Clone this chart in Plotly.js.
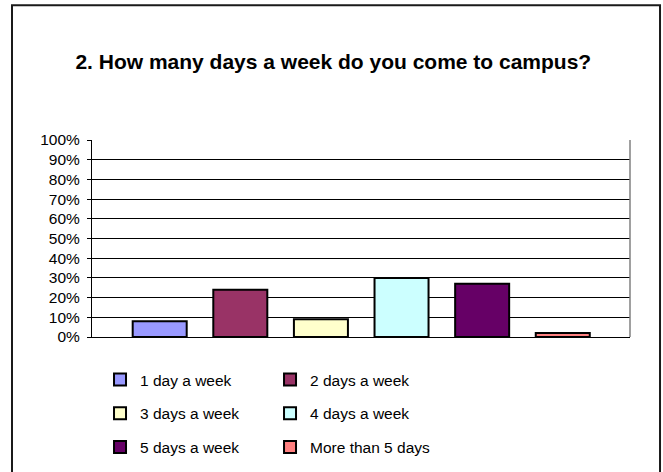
<!DOCTYPE html>
<html>
<head>
<meta charset="utf-8">
<script src="https://cdn.plot.ly/plotly-3.0.1.min.js"></script>
<style>
  html, body { margin: 0; padding: 0; background: #fff; }
  #chart { width: 663px; height: 472px; }
</style>
</head>
<body>
<div id="chart"></div>
<script>
// Data
const titleText = "2. How many days a week do you come to campus?";
const categories = ["1 day a week", "2 days a week", "3 days a week", "4 days a week", "5 days a week", "More than 5 days"];
const values = [8, 24, 9, 30, 27, 2];           // percent of respondents
const colors = ["#9999FF", "#993366", "#FFFFCC", "#CCFFFF", "#660066", "#FF8080"];
const legendOf = ["legend", "legend2", "legend", "legend2", "legend", "legend2"];

const FONT = '"Liberation Sans", Arial, sans-serif';

const traces = categories.map((name, i) => ({
  type: "bar",
  name: name,
  x: [name],
  y: [values[i]],
  width: 0.67,
  marker: { color: colors[i], line: { color: "#000", width: 2 } },
  legend: legendOf[i],
  legendgroup: "g" + i,
  hoverinfo: "skip"
}));

const legendCommon = {
  orientation: "v",
  traceorder: "grouped",
  tracegroupgap: 10.5,
  xanchor: "left",
  yanchor: "top",
  y: -0.132,
  bgcolor: "rgba(0,0,0,0)",
  borderwidth: 0,
  font: { family: FONT, size: 15.5, color: "#000" }
};

const layout = {
  width: 663,
  height: 472,
  margin: { l: 92, r: 33, t: 140, b: 135, pad: 0, autoexpand: false },
  paper_bgcolor: "#fff",
  plot_bgcolor: "#fff",
  barmode: "overlay",
  showlegend: true,
  title: {
    text: "<b>" + titleText + "</b>",
    font: { family: FONT, size: 21, color: "#000" },
    xref: "container", yref: "container",
    x: 0.5027, xanchor: "center",
    y: 0.8686, yanchor: "middle"
  },
  xaxis: {
    type: "category",
    categoryorder: "array",
    categoryarray: categories,
    range: [-0.8397, 5.834],
    showticklabels: false,
    ticks: "",
    showgrid: false,
    zeroline: false,
    showline: true,
    linecolor: "#000",
    linewidth: 1,
    fixedrange: true
  },
  yaxis: {
    range: [0, 100],
    dtick: 10,
    tick0: 0,
    ticksuffix: "%",
    ticks: "outside",
    ticklen: 4,
    tickwidth: 1,
    tickcolor: "#000",
    ticklabelstandoff: 4,
    tickfont: { family: FONT, size: 15.5, color: "#000" },
    showgrid: true,
    gridcolor: "#000",
    gridwidth: 1,
    zeroline: false,
    showline: true,
    linecolor: "#000",
    linewidth: 1,
    fixedrange: true
  },
  legend: Object.assign({}, legendCommon, { x: 0.0149 }),
  legend2: Object.assign({}, legendCommon, { x: 0.3309 }),
  shapes: [
    // right edge of plot area (grey)
    { type: "line", xref: "paper", yref: "paper", x0: 1, x1: 1, y0: 0, y1: 1,
      line: { color: "#808080", width: 1.5 } },
    // outer chart frame
    { type: "rect", xref: "paper", yref: "paper",
      x0: -0.1487, x1: 1.0558, y0: -0.8, y1: 1.6842,
      line: { color: "#1a1a1a", width: 2 }, fillcolor: "rgba(0,0,0,0)", layer: "below" }
  ]
};

Plotly.newPlot("chart", traces, layout, { displayModeBar: false, staticPlot: true });
</script>
</body>
</html>
